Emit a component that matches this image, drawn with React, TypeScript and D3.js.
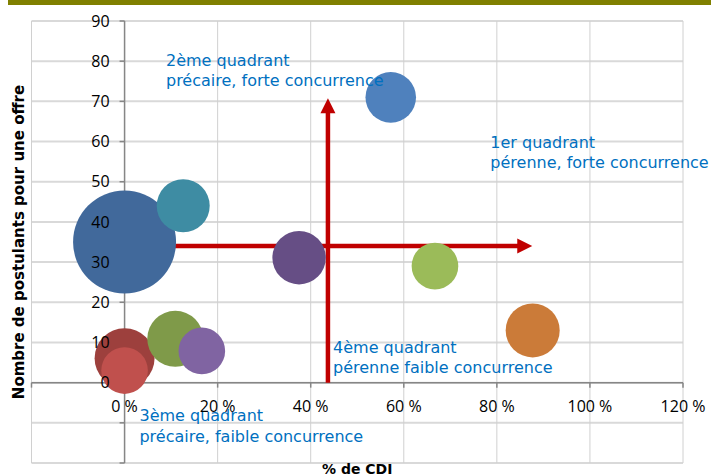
import React from "react";
import * as d3 from "d3";

const bubbleX = [0, 0.126, 0.572, 0.375, 0.667, 0.877, 0, 0, 0.109, 0.166];
const bubbleY = [35, 44, 71, 31.1, 29, 13, 6.1, 3, 10.9, 7.9];
const bubbleSize = [100, 26.5, 24.1, 26.9, 20.5, 27.5, 33.9, 20.5, 29.6, 20.5];
const bubbleColors = ["#41699B", "#3E8CA3", "#4F81BD", "#664E85", "#9BBB59", "#CB7B39", "#9D403D", "#C0504D", "#7F9A49", "#8064A2"];

const xTicks = [-0.2, 0, 0.2, 0.4, 0.6, 0.8, 1.0, 1.2];
const yTicks = [-20, -10, 0, 10, 20, 30, 40, 50, 60, 70, 80, 90];

const quadrantTitles = ["2ème quadrant", "1er quadrant", "4ème quadrant", "3ème quadrant"];
const quadrantSubtitles = ["précaire, forte concurrence", "pérenne, forte concurrence", "pérenne faible concurrence", "précaire, faible concurrence"];
const quadrantAnchorX = [0.089, 0.786, 0.448, 0.032];
const quadrantAnchorY = [78.9, 58.5, 7.45, -9.55];

// horizontal arrow: from x0 to x1 at y; vertical arrow at x from y0 to y1
const hArrow = { x0: 0, x1: 0.876, y: 34 };
const vArrow = { x: 0.437, y0: 0, y1: 70.8 };

export default function App() {
  const W = 711, H = 476;
  const x = d3.scaleLinear().domain([-0.2, 1.2]).range([31.5, 683]);
  const y = d3.scaleLinear().domain([-20, 90]).range([463, 21]);
  const r = d3.scaleSqrt().domain([0, 100]).range([0, 51.5]);
  const pct = (v: number) => `${Math.round(v * 100)} %`;

  const head = 15, hw = 7.5;
  const hx1 = x(hArrow.x1), hy = y(hArrow.y);
  const vx = x(vArrow.x), vy1 = y(vArrow.y1);

  const order = d3.range(bubbleX.length);

  return (
    <svg width={W} height={H} style={{ position: "absolute", left: 0, top: 0, background: "#fff" }}>
      <rect x={8} y={0} width={W - 8} height={5} fill="#808000" />
      {/* gridlines */}
      {yTicks.map((t) => (
        <line key={"gy" + t} x1={x(-0.2)} x2={x(1.2)} y1={y(t)} y2={y(t)} stroke="#D9D9D9" strokeWidth={2} />
      ))}
      {xTicks.map((t) => (
        <line key={"gx" + t} x1={x(t)} x2={x(t)} y1={y(90)} y2={y(-20)} stroke="#D0D0D0" strokeWidth={1} />
      ))}
      {/* axes */}
      <line x1={x(0)} x2={x(0)} y1={y(90)} y2={y(-20)} stroke="#868686" strokeWidth={1.5} />
      <line x1={x(-0.2)} x2={x(1.2)} y1={y(0)} y2={y(0)} stroke="#868686" strokeWidth={1.5} />
      {yTicks.map((t) => (
        <line key={"ty" + t} x1={x(0) - 5} x2={x(0)} y1={y(t)} y2={y(t)} stroke="#868686" strokeWidth={1.5} />
      ))}
      {xTicks.map((t) => (
        <line key={"tx" + t} x1={x(t)} x2={x(t)} y1={y(0)} y2={y(0) + 5} stroke="#868686" strokeWidth={1.5} />
      ))}
      {/* arrows */}
      <line x1={x(hArrow.x0)} x2={hx1 - head + 1} y1={hy} y2={hy} stroke="#C00000" strokeWidth={4.5} />
      <path d={`M${hx1},${hy} L${hx1 - head},${hy - hw} L${hx1 - head},${hy + hw} Z`} fill="#C00000" />
      <line x1={vx} x2={vx} y1={y(vArrow.y0)} y2={vy1 + head - 1} stroke="#C00000" strokeWidth={4.5} />
      <path d={`M${vx},${vy1} L${vx - hw},${vy1 + head} L${vx + hw},${vy1 + head} Z`} fill="#C00000" />
      {/* bubbles */}
      {order.map((i) => (
        <circle key={"b" + i} cx={x(bubbleX[i])} cy={y(bubbleY[i])} r={r(bubbleSize[i])} fill={bubbleColors[i]} />
      ))}
      {/* tick labels */}
      {yTicks.filter((t) => t >= 0).map((t) => (
        <text key={"ly" + t} x={x(0) - 15} y={y(t)} dy="0.36em" textAnchor="end" fontFamily="'Open Sans', sans-serif" fontSize={16} fill="#000">
          {t}
        </text>
      ))}
      {xTicks.filter((t) => t >= 0).map((t) => (
        <text key={"lx" + t} x={x(t)} y={411.5} textAnchor="middle" fontFamily="'Open Sans', sans-serif" fontSize={16} fill="#000">
          {pct(t)}
        </text>
      ))}
      {/* quadrant annotations */}
      {quadrantTitles.map((t, i) => (
        <text key={"q" + i} x={x(quadrantAnchorX[i])} y={y(quadrantAnchorY[i])} fontFamily="'DejaVu Sans', sans-serif" fontSize={16} fill="#0070C0">
          <tspan x={x(quadrantAnchorX[i])}>{t}</tspan>
          <tspan x={x(quadrantAnchorX[i])} dy={20.5}>{quadrantSubtitles[i]}</tspan>
        </text>
      ))}
      {/* axis titles */}
      <text x={(x(-0.2) + x(1.2)) / 2} y={474} textAnchor="middle" fontFamily="'DejaVu Sans', sans-serif" fontWeight="bold" fontSize={14} fill="#000">
        % de CDI
      </text>
      <text transform={`translate(24,${(y(90) + y(-20)) / 2}) rotate(-90)`} textAnchor="middle" fontFamily="'DejaVu Sans', sans-serif" fontWeight="bold" fontSize={15} fill="#000">
        Nombre de postulants pour une offre
      </text>
    </svg>
  );
}
